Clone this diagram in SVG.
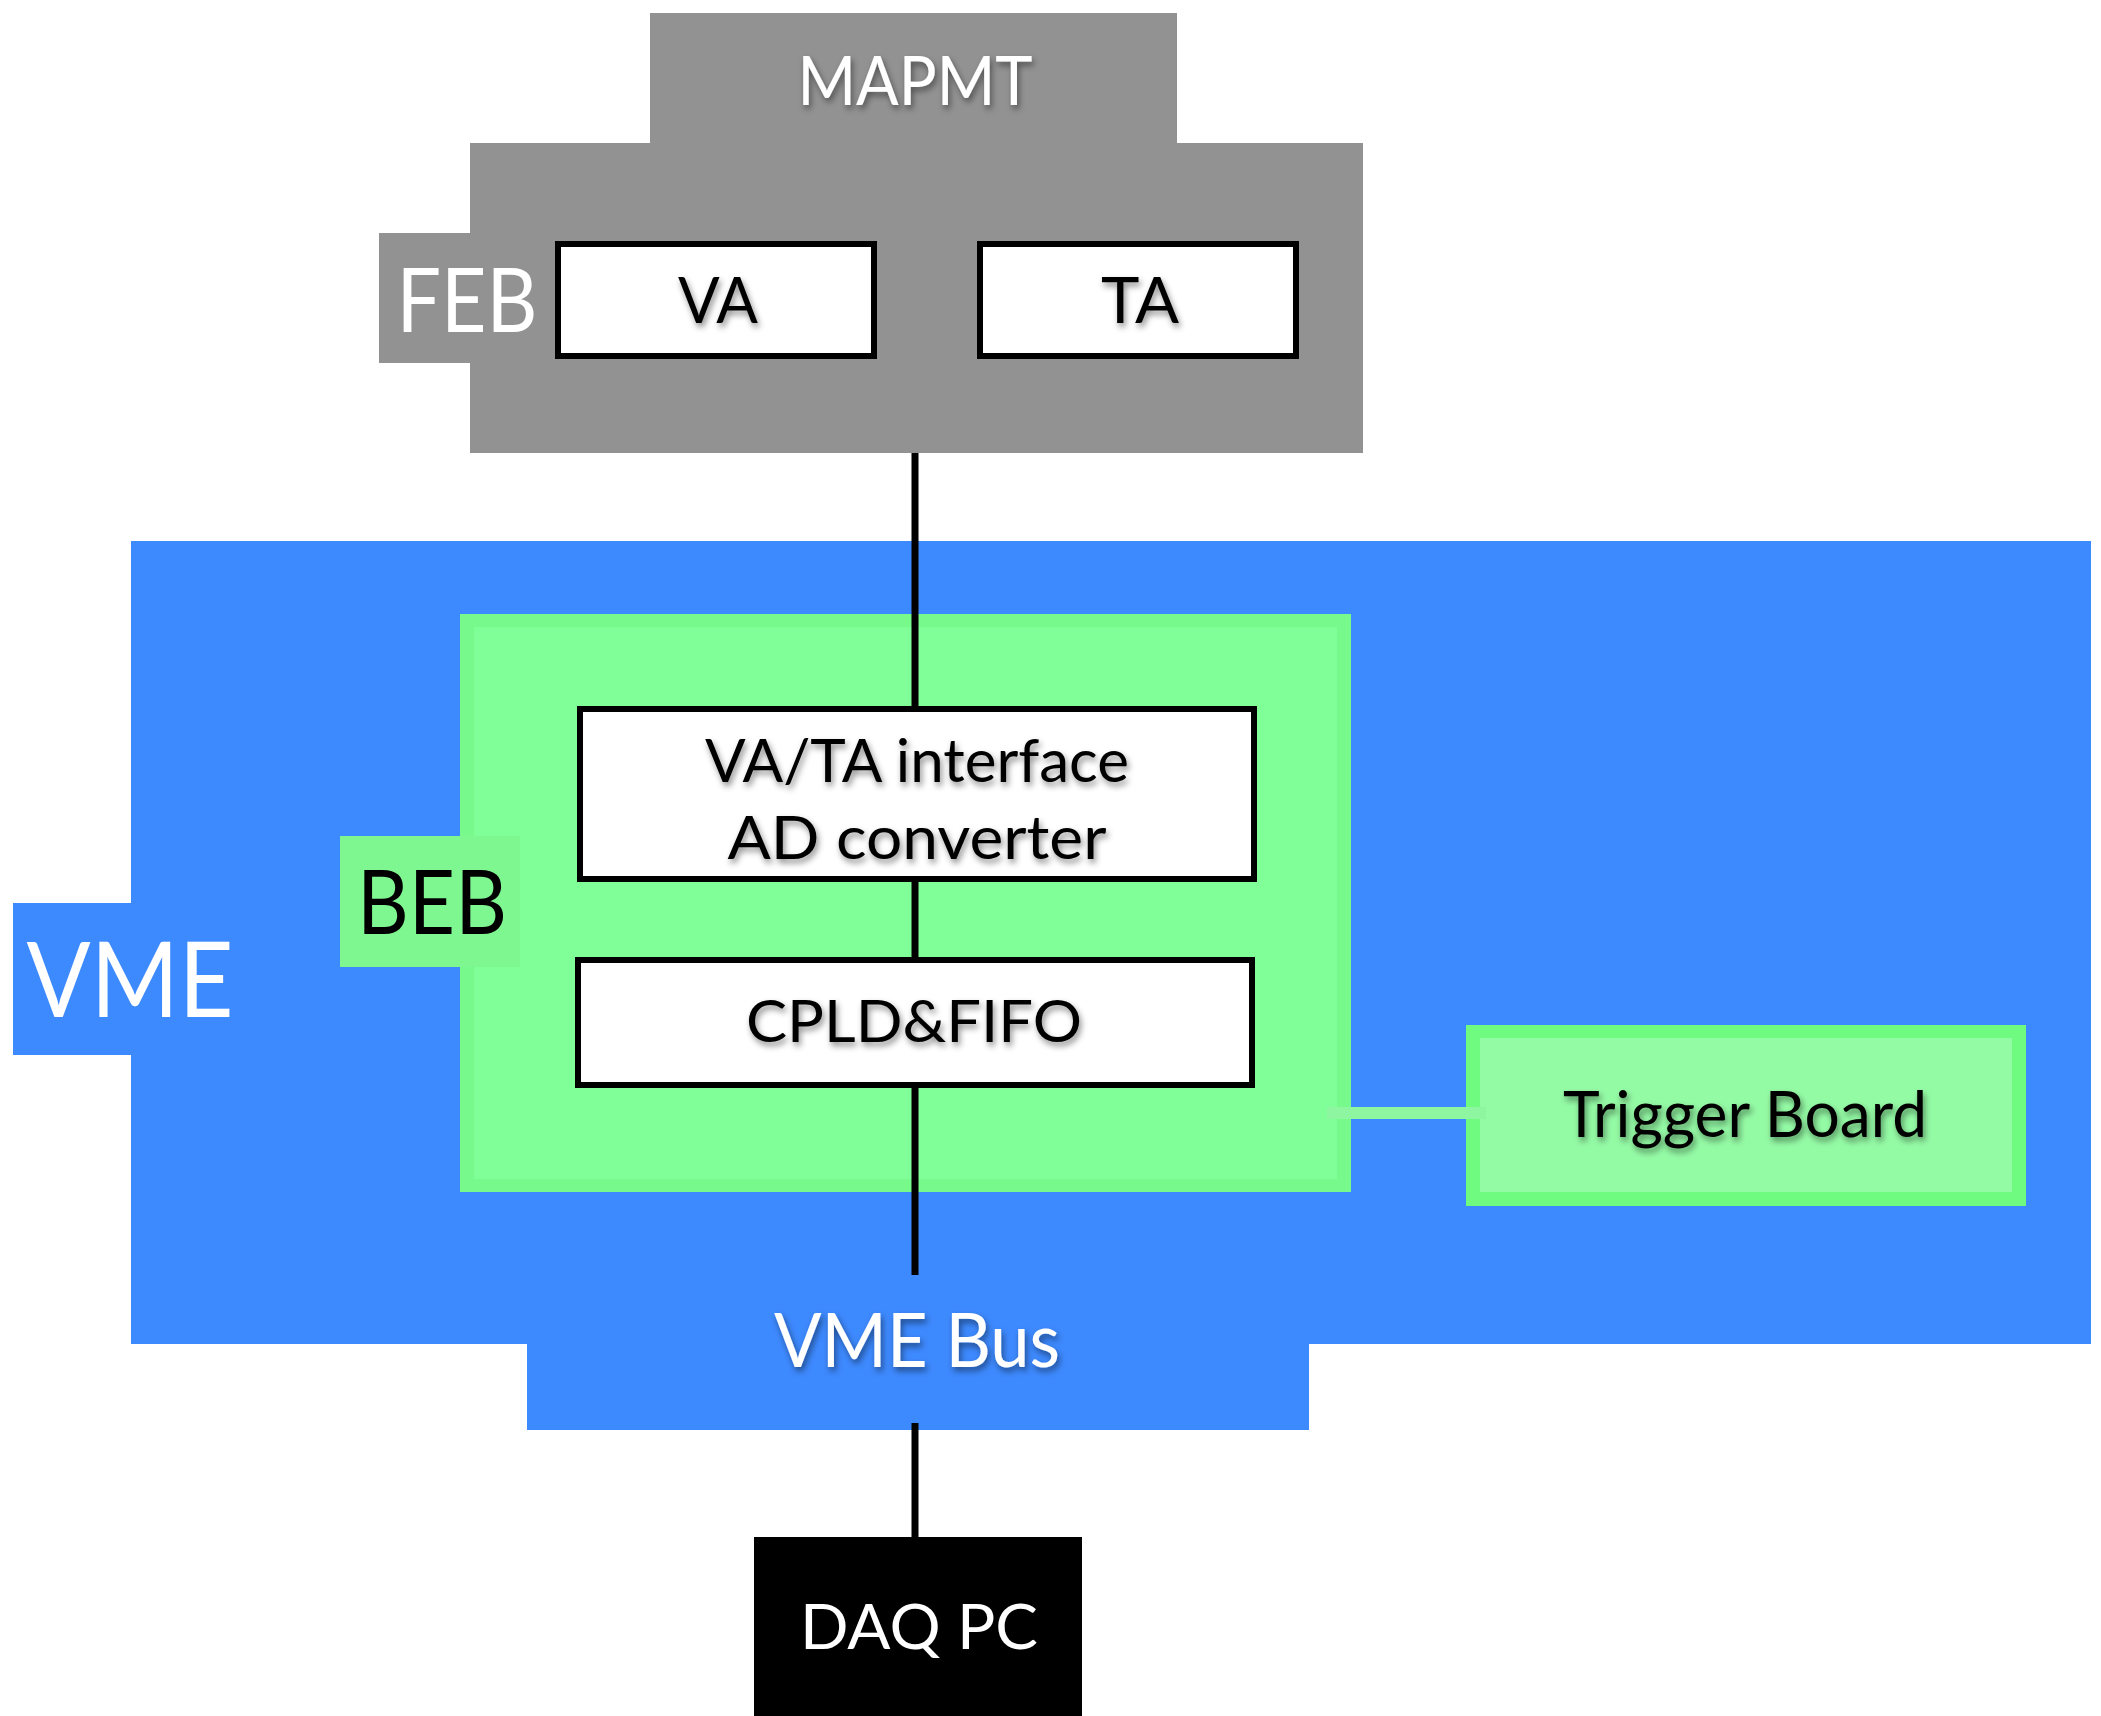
<svg xmlns="http://www.w3.org/2000/svg" width="2101" height="1716" viewBox="0 0 2101 1716">
<defs>
<filter id="sh" x="-10%" y="-20%" width="120%" height="150%">
<feDropShadow dx="2" dy="4" stdDeviation="3" flood-color="#000" flood-opacity="0.45"/>
</filter>
<style>
text{font-family:Lato,"Liberation Sans",sans-serif;text-anchor:middle;}
.w{fill:#fff;}
.k{fill:#000;}
.gray{fill:#929292;}
.blue{fill:#3D89FE;}
.box{fill:#fff;stroke:#000;stroke-width:6;}
.wire{stroke:#000;stroke-width:7;fill:none;}
</style>
</defs>
<rect width="2101" height="1716" fill="#fff"/>
<g id="vme">
<rect class="blue" x="131" y="541" width="1960" height="803"/>
<rect class="blue" x="13" y="903" width="118" height="152"/>
<rect class="blue" x="527" y="1343" width="782" height="87"/>
<text class="w" x="130" y="1017" font-size="105" textLength="207" lengthAdjust="spacingAndGlyphs">VME</text>
<text class="w" x="917" y="1367" font-size="76" textLength="286" lengthAdjust="spacingAndGlyphs" filter="url(#sh)">VME Bus</text>
</g>
<g id="feb">
<rect class="gray" x="650" y="13" width="527" height="131"/>
<rect class="gray" x="470" y="143" width="893" height="310"/>
<rect class="gray" x="379" y="233" width="92" height="130"/>
<text class="w" x="915" y="105" font-size="68" textLength="235" lengthAdjust="spacingAndGlyphs" filter="url(#sh)">MAPMT</text>
<text class="w" x="467" y="332" font-size="90" textLength="141" lengthAdjust="spacingAndGlyphs">FEB</text>
</g>
<g id="va">
<rect class="box" x="558" y="244" width="316" height="112"/>
<text class="k" x="718" y="323" font-size="64" textLength="80" lengthAdjust="spacingAndGlyphs" filter="url(#sh)">VA</text>
</g>
<g id="ta">
<rect class="box" x="980" y="244" width="316" height="112"/>
<text class="k" x="1140" y="323" font-size="64" textLength="78" lengthAdjust="spacingAndGlyphs" filter="url(#sh)">TA</text>
</g>
<g id="beb">
<rect x="460" y="614" width="891" height="578" fill="#77F98B"/>
<rect x="474" y="627" width="863" height="552" fill="#80FF98"/>
<rect x="340" y="836" width="180" height="131" fill="#7FF791"/>
<text class="k" x="432" y="934" font-size="90" textLength="150" lengthAdjust="spacingAndGlyphs">BEB</text>
</g>
<g id="trigger">
<rect x="1466" y="1025" width="560" height="181" fill="#6FFB80"/>
<rect x="1480" y="1038" width="532" height="154" fill="#94FBA5"/>
</g>
<g id="connectors">
<line class="wire" x1="915" y1="453" x2="915" y2="708"/>
<line class="wire" x1="915" y1="880" x2="915" y2="958"/>
<line class="wire" x1="915" y1="1086" x2="915" y2="1275"/>
<line class="wire" x1="915" y1="1423" x2="915" y2="1537"/>
<line x1="1327" y1="1113" x2="1486" y2="1113" stroke="#8EF6A0" stroke-width="12"/>
</g>
<g id="trigger-label">
<text class="k" x="1745" y="1137" font-size="64" textLength="364" lengthAdjust="spacingAndGlyphs" filter="url(#sh)">Trigger Board</text>
</g>
<g id="interface">
<rect class="box" x="580" y="709" width="674" height="170"/>
<text class="k" x="917" y="782" font-size="60" textLength="424" lengthAdjust="spacingAndGlyphs" filter="url(#sh)">VA/TA interface</text>
<text class="k" x="917" y="859" font-size="60" textLength="379" lengthAdjust="spacingAndGlyphs" filter="url(#sh)">AD converter</text>
</g>
<g id="cpld">
<rect class="box" x="578" y="960" width="674" height="125"/>
<text class="k" x="914" y="1042" font-size="58" textLength="336" lengthAdjust="spacingAndGlyphs" filter="url(#sh)">CPLD&amp;FIFO</text>
</g>
<g id="daqpc">
<rect x="754" y="1537" width="328" height="179" fill="#000"/>
<text class="w" x="919" y="1649" font-size="62" textLength="238" lengthAdjust="spacingAndGlyphs">DAQ PC</text>
</g>
</svg>
